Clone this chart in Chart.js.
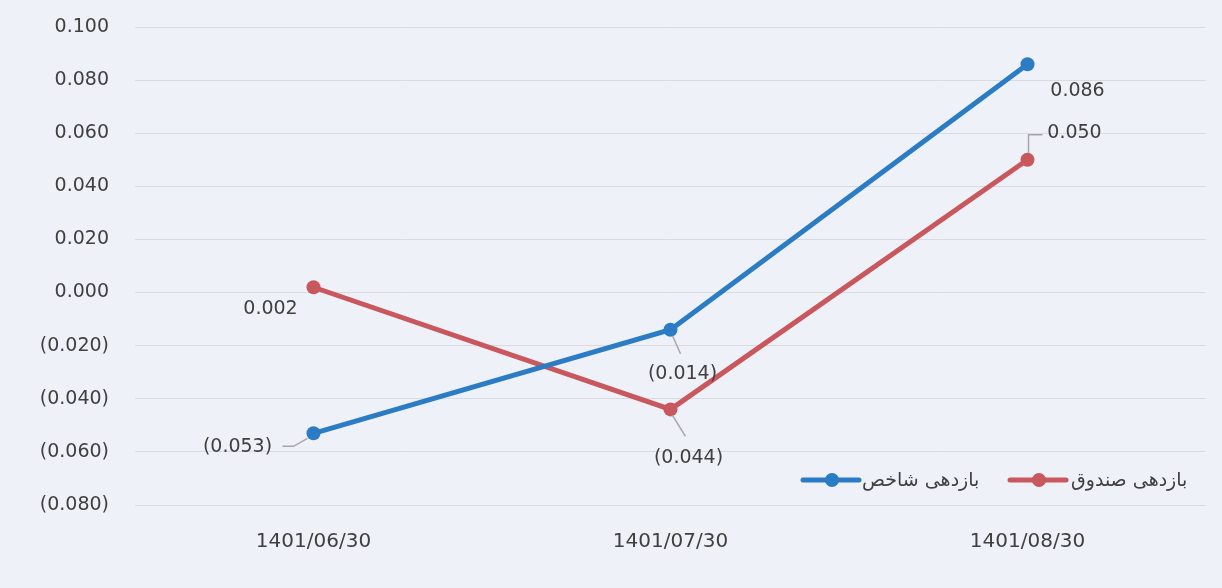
<!DOCTYPE html>
<html>
<head>
<meta charset="utf-8">
<script src="https://cdn.jsdelivr.net/npm/chart.js@4.4.0/dist/chart.umd.min.js"></script>
<style>
  html, body { margin: 0; padding: 0; background: #eef1f7; }
  #wrap { position: relative; width: 1222px; height: 588px; }
  .lg { position: absolute; white-space: nowrap; font-family: "DejaVu Sans", sans-serif;
        font-size: 19px; color: #404040; line-height: 24px; }
</style>
</head>
<body>
<div id="wrap"><canvas id="c" width="1222" height="588"></canvas></div>
<script>
// ---- data ----
const categories = ['1401/06/30', '1401/07/30', '1401/08/30'];
const indexReturns = [-0.053, -0.014, 0.086];   // بازدهی شاخص
const fundReturns = [0.002, -0.044, 0.050];     // بازدهی صندوق
const seriesNames = ['بازدهی شاخص', 'بازدهی صندوق'];
const yTicks = [-0.08, -0.06, -0.04, -0.02, 0, 0.02, 0.04, 0.06, 0.08, 0.1];

const FONT = '"DejaVu Sans", sans-serif';
const TEXT = '#404040';
const BLUE = '#2b7cc4';
const RED = '#c9575e';

function fmt(v) {
  const s = Math.abs(v).toFixed(3);
  return v < -1e-9 ? '(' + s + ')' : s;
}

// label placement (pixel offsets from point), leader polylines relative to point
const labelLayout = [
  [ { dx: -76, dy: 14, leader: [[-31, 13], [-20, 13], [-6, 5]] },
    { dx: 12, dy: 44, leader: [[2, 6], [10, 24]] },
    { dx: 50, dy: 27, leader: null } ],
  [ { dx: -43, dy: 22, leader: null },
    { dx: 18, dy: 49, leader: [[2, 6], [15, 27]] },
    { dx: 47, dy: -27, leader: [[1, -7], [1, -25], [15, -25]] } ]
];

// legend item placement
const legendPos = [ { x: 803, textX: 862 }, { x: 1010, textX: 1071 } ];
const legendY = 480;

const bgPlugin = {
  id: 'bg',
  beforeDraw(chart) {
    const ctx = chart.ctx;
    ctx.save();
    ctx.fillStyle = '#eef1f7';
    ctx.fillRect(0, 0, chart.width, chart.height);
    ctx.restore();
  }
};

const labelPlugin = {
  id: 'valueLabels',
  afterDatasetsDraw(chart) {
    const ctx = chart.ctx;
    ctx.save();
    chart.data.datasets.forEach((ds, di) => {
      const meta = chart.getDatasetMeta(di);
      meta.data.forEach((pt, i) => {
        const L = labelLayout[di][i];
        if (L.leader) {
          ctx.strokeStyle = '#a6a6a6';
          ctx.lineWidth = 1.5;
          ctx.beginPath();
          L.leader.forEach((p, k) => {
            const x = pt.x + p[0], y = pt.y + p[1];
            if (k === 0) ctx.moveTo(x, y); else ctx.lineTo(x, y);
          });
          ctx.stroke();
        }
        ctx.fillStyle = TEXT;
        ctx.font = '19px ' + FONT;
        ctx.textAlign = 'center';
        ctx.textBaseline = 'middle';
        ctx.fillText(fmt(ds.data[i]), pt.x + L.dx, pt.y + L.dy);
      });
    });
    ctx.restore();
  }
};

const legendPlugin = {
  id: 'insideLegend',
  afterDraw(chart) {
    const ctx = chart.ctx;
    ctx.save();
    legendPos.forEach((it, di) => {
      const ds = chart.data.datasets[di];
      ctx.strokeStyle = ds.borderColor;
      ctx.lineWidth = 5;
      ctx.lineCap = 'round';
      ctx.beginPath();
      ctx.moveTo(it.x, legendY);
      ctx.lineTo(it.x + 56, legendY);
      ctx.stroke();
      ctx.fillStyle = ds.pointBackgroundColor;
      ctx.beginPath();
      ctx.arc(it.x + 29, legendY, 7, 0, Math.PI * 2);
      ctx.fill();
    });
    ctx.restore();
  }
};

const chart = new Chart(document.getElementById('c'), {
  type: 'line',
  data: {
    labels: categories,
    datasets: [
      {
        label: seriesNames[0],
        data: indexReturns,
        borderColor: BLUE,
        backgroundColor: BLUE,
        pointBackgroundColor: BLUE,
        pointBorderColor: BLUE,
        borderWidth: 5,
        pointRadius: 7,
        pointBorderWidth: 0,
        tension: 0
      },
      {
        label: seriesNames[1],
        data: fundReturns,
        borderColor: RED,
        backgroundColor: RED,
        pointBackgroundColor: RED,
        pointBorderColor: RED,
        borderWidth: 5,
        pointRadius: 7,
        pointBorderWidth: 0,
        tension: 0
      }
    ]
  },
  options: {
    responsive: false,
    animation: false,
    events: [],
    layout: { autoPadding: false, padding: { left: 0, right: 16, top: 27, bottom: 0 } },
    plugins: {
      legend: { display: false },
      tooltip: { enabled: false }
    },
    scales: {
      x: {
        offset: true,
        grid: { display: false, drawTicks: false },
        border: { display: false },
        ticks: { color: TEXT, font: { family: FONT, size: 20 }, padding: 25, maxRotation: 0 },
        afterFit(s) { s.height = 83; }
      },
      y: {
        min: -0.08,
        max: 0.1,
        afterBuildTicks(s) { s.ticks = yTicks.map(v => ({ value: v })); },
        grid: { color: '#d8dbe0', lineWidth: 1, drawTicks: false },
        border: { display: false },
        ticks: {
          color: TEXT,
          font: { family: FONT, size: 19 },
          padding: 26,
          callback: v => fmt(v)
        },
        afterFit(s) { s.width = 135; s.paddingTop = 0; s.paddingBottom = 0; }
      }
    }
  },
  plugins: [bgPlugin, labelPlugin, legendPlugin]
});

// legend texts as real HTML text
const wrap = document.getElementById('wrap');
chart.data.datasets.forEach((ds, di) => {
  const el = document.createElement('div');
  el.className = 'lg';
  el.dir = 'rtl';
  el.textContent = ds.label;
  el.style.left = legendPos[di].textX + 'px';
  el.style.top = (legendY - 13) + 'px';
  wrap.appendChild(el);
});
</script>
</body>
</html>
